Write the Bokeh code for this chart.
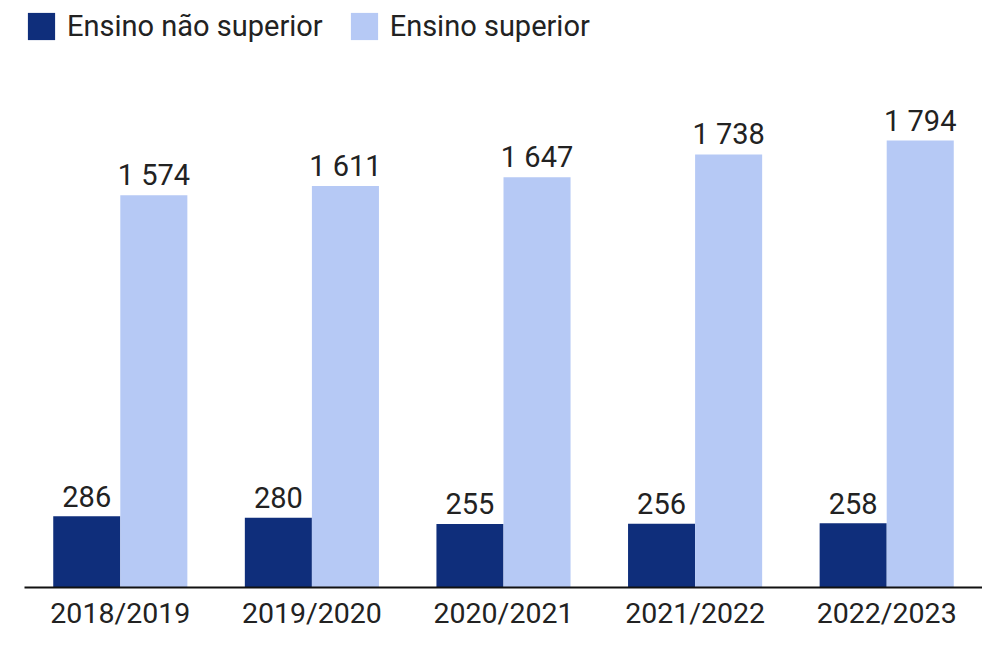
from bokeh.plotting import figure
from bokeh.models import ColumnDataSource, FactorRange, Range1d, Legend, LegendItem
from bokeh.transform import dodge
from bokeh.core.properties import value
from bokeh.embed import file_html
from bokeh.resources import INLINE

years = ["2018/2019", "2019/2020", "2020/2021", "2021/2022", "2022/2023"]
nao_superior = [286, 280, 255, 256, 258]
superior = [1574, 1611, 1647, 1738, 1794]
series_names = ["Ensino não superior", "Ensino superior"]

DARK = "#0f2e7b"
LIGHT = "#b6c9f5"
TXT = "#222222"
FONT = "Roboto"

def fmt(v):
    return f"{v:,}".replace(",", " ")

src = ColumnDataSource(dict(
    x=years,
    a=nao_superior,
    b=superior,
    la=[fmt(v) for v in nao_superior],
    lb=[fmt(v) for v in superior],
))

p = figure(width=982, height=632, output_backend="svg", toolbar_location=None,
           x_range=FactorRange(factors=years, range_padding=0),
           y_range=Range1d(0, 2356),
           min_border_left=24, min_border_right=0, min_border_top=0, min_border_bottom=41)
p.outline_line_color = None
p.xgrid.grid_line_color = None
p.ygrid.grid_line_color = None
p.yaxis.visible = False

r1 = p.vbar(x=dodge("x", -0.175, range=p.x_range), top="a", width=0.35, source=src,
            fill_color=DARK, line_color=None)
r2 = p.vbar(x=dodge("x", 0.175, range=p.x_range), top="b", width=0.35, source=src,
            fill_color=LIGHT, line_color=None)

p.text(x=dodge("x", -0.175, range=p.x_range), y="a", text="la", source=src,
       text_align="center", text_baseline="alphabetic", y_offset=-20,
       text_font=value(FONT), text_font_size="29px", text_color=TXT)
p.text(x=dodge("x", 0.175, range=p.x_range), y="b", text="lb", source=src,
       text_align="center", text_baseline="alphabetic", y_offset=-20,
       text_font=value(FONT), text_font_size="29px", text_color=TXT)

ax = p.xaxis[0]
ax.axis_line_color = "#111111"
ax.axis_line_width = 2
ax.major_tick_line_color = None
ax.minor_tick_line_color = None
ax.major_tick_out = 0
ax.major_tick_in = 0
ax.minor_tick_out = 0
ax.minor_tick_in = 0
ax.major_label_text_font = FONT
ax.major_label_text_font_size = "28.5px"
ax.major_label_text_color = TXT
ax.major_label_standoff = 9

legend = Legend(items=[LegendItem(label=series_names[0], renderers=[r1]),
                       LegendItem(label=series_names[1], renderers=[r2])],
                location=(0, 544), orientation="horizontal",
                glyph_width=34, glyph_height=34, label_standoff=9, spacing=24,
                padding=0, margin=0, border_line_color=None, background_fill_alpha=0,
                label_text_font=FONT, label_text_font_size="29px", label_text_color=TXT)
p.add_layout(legend, "center")

open("out.html", "w").write(file_html(p, INLINE))
